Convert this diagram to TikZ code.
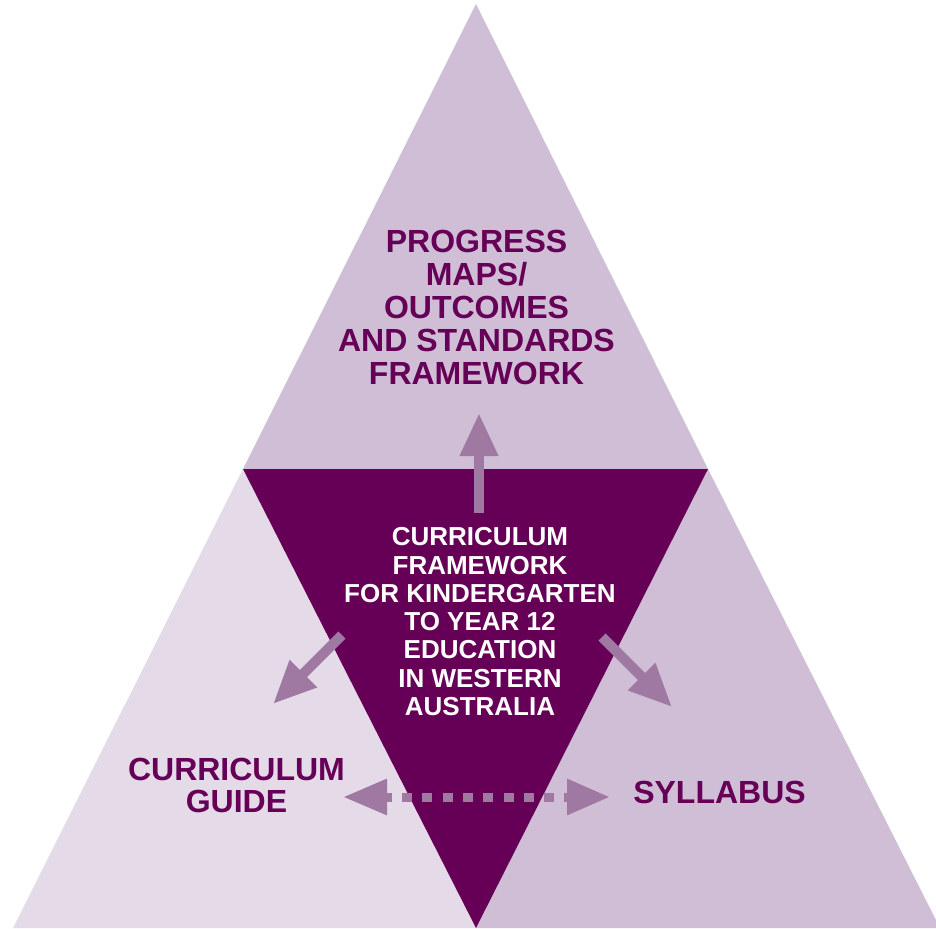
\documentclass[tikz,border=0pt]{standalone}
\usepackage{fontspec}
\setmainfont{Liberation Sans}
\usetikzlibrary{arrows.meta}
\definecolor{toppurple}{HTML}{CFBED6}
\definecolor{lightpurple}{HTML}{E5DAE8}
\definecolor{darkpurple}{HTML}{660057}
\definecolor{arrowpurple}{HTML}{A079A3}
\tikzset{
  outertext/.style={text=darkpurple, inner sep=0pt, align=center, font=\fontsize{32}{33}\selectfont\bfseries},
  innertext/.style={text=white, inner sep=0pt, align=center, font=\fontsize{26}{28.25}\selectfont\bfseries},
  bigarrow/.style={draw=arrowpurple, line width=10pt, -{Triangle[length=43pt,width=36pt]}},
  dotarrow/.style={draw=arrowpurple, line width=9pt, {Triangle[length=44pt,width=34pt]}-{Triangle[length=43pt,width=34pt]}, dash pattern=on 10pt off 10.3pt, dash phase=3pt}
}
\begin{document}
\begin{tikzpicture}[x=1pt,y=-1pt]
\useasboundingbox (0,0) rectangle (936,928);
\clip (0,0) rectangle (936,928);
% regions
\fill[toppurple] (476,4) -- (243,469) -- (708,469) -- cycle;
\fill[lightpurple] (243,469) -- (13,928) -- (476,928) -- cycle;
\fill[toppurple] (708,469) -- (940,928) -- (476,928) -- cycle;
\fill[darkpurple] (243,469) -- (708,469) -- (476,928) -- cycle;
% texts
\node[outertext, anchor=north] (pm) at (476.5,230) {PROGRESS\\MAPS/\\OUTCOMES\\AND STANDARDS\\FRAMEWORK};
\node[innertext, anchor=north] (cf) at (480,527.5) {CURRICULUM\\FRAMEWORK\\FOR KINDERGARTEN\\TO YEAR 12\\EDUCATION\\IN WESTERN\\AUSTRALIA};
\node[outertext, anchor=north, font=\fontsize{32}{32}\selectfont\bfseries] (cg) at (236.5,758) {CURRICULUM\\GUIDE};
\node[outertext] (sy) at (719.5,792.5) {SYLLABUS};
% arrow end points
\coordinate (upS) at (479,513);
\coordinate (upT) at (479,413);
\coordinate (lS) at (342,635);
\coordinate (lT) at (273,704);
\coordinate (rS) at (602,637);
\coordinate (rT) at (672,707);
\coordinate (hL) at (343,797);
\coordinate (hR) at (610,797);
% arrows
\draw[bigarrow] (upS) -- (upT);
\draw[bigarrow] (lS) -- (lT);
\draw[bigarrow] (rS) -- (rT);
\draw[dotarrow] (hL) -- (hR);
\end{tikzpicture}
\end{document}
